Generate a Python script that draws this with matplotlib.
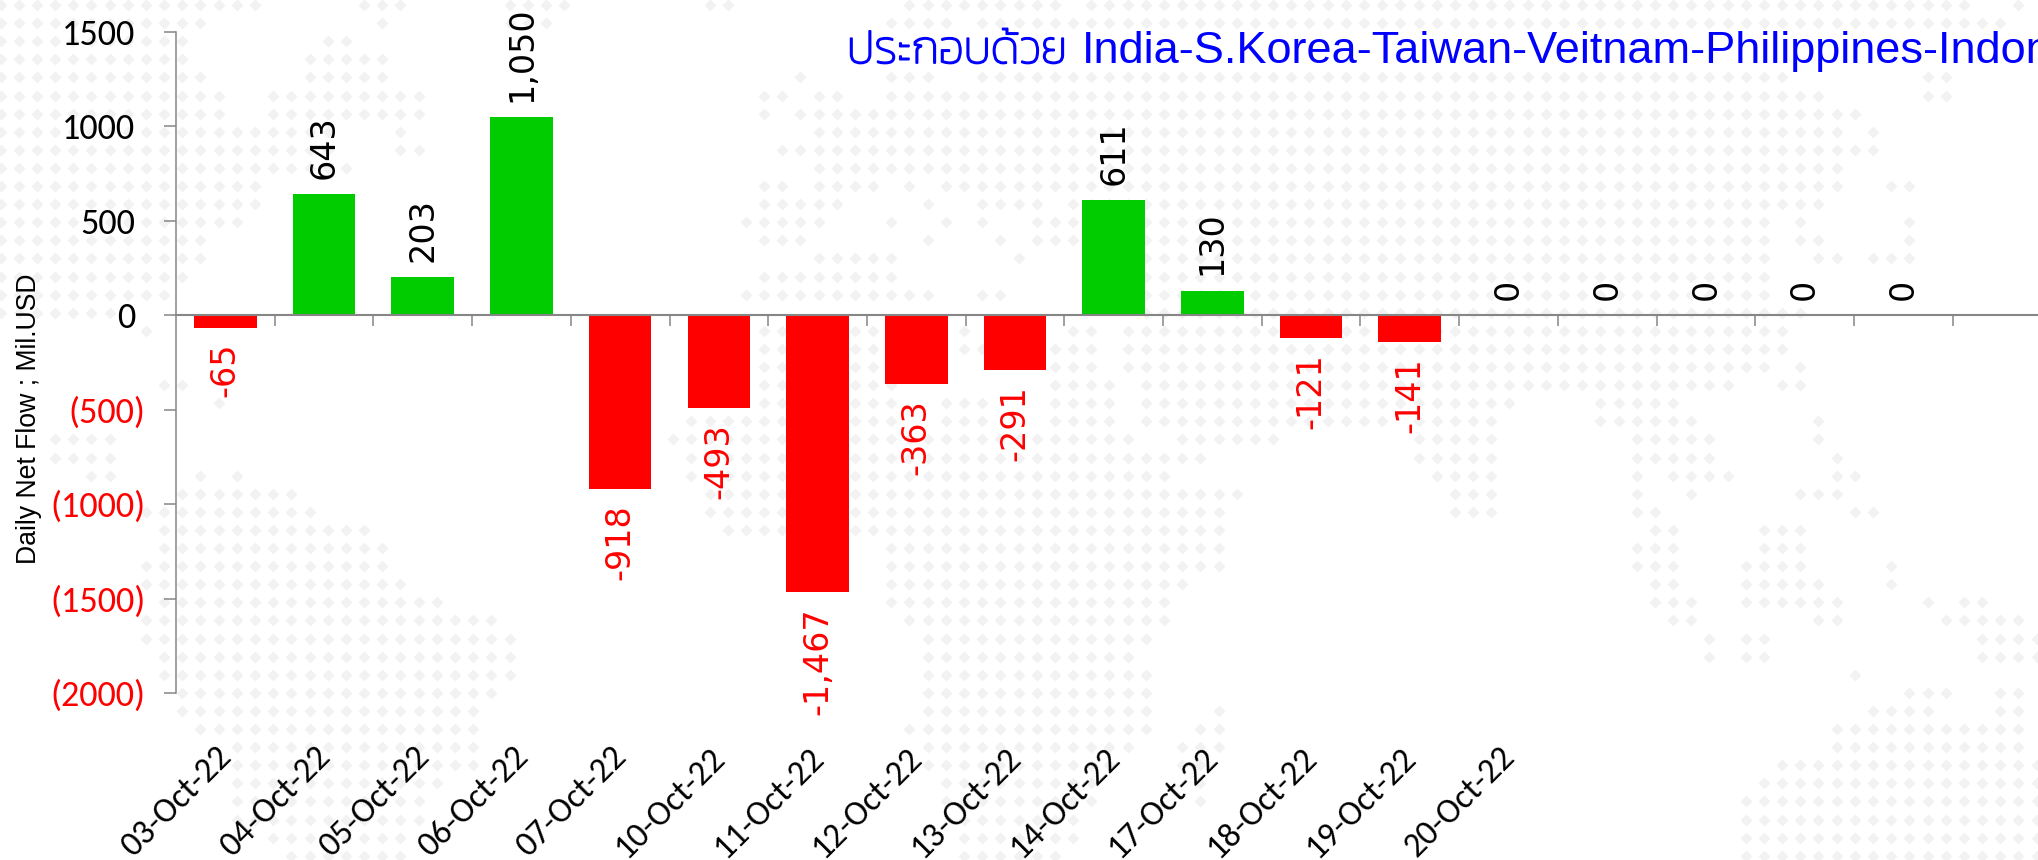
import numpy as np
import matplotlib
matplotlib.use("Agg")
import matplotlib.pyplot as plt
import matplotlib.patheffects as pe
from matplotlib.transforms import ScaledTranslation

W, H = 2038, 860

dates = ["03-Oct-22", "04-Oct-22", "05-Oct-22", "06-Oct-22", "07-Oct-22", "10-Oct-22",
         "11-Oct-22", "12-Oct-22", "13-Oct-22", "14-Oct-22", "17-Oct-22", "18-Oct-22",
         "19-Oct-22", "20-Oct-22", "", "", "", ""]
net_flow = [-65, 643, 203, 1050, -918, -493, -1467, -363, -291, 611, 130, -121, -141,
            0, 0, 0, 0, 0]
y_ticks = [1500, 1000, 500, 0, -500, -1000, -1500, -2000]

title_thai = "ประกอบด้วย"
title_latin = "India-S.Korea-Taiwan-Veitnam-Philippines-Indonesia"
y_label = "Daily Net Flow ; Mil.USD"

GREEN = "#00CC00"
RED = "#FF0000"
AXIS = "#868686"
DOT = "#F2F2F2"

# dotted world map behind the chart, one line per dot row: runs of dot columns
map_rows = """0-14 20-22 28-31 39-40 50-58 60-108 111
0-11 21 28-30 49-52 54-110
0-10 18-19
0-10 17-21
0-11 17-21 44 49-51 54-98 106-107
0-12 15-23 42-43 45-46 49-100 106-107
0-12 15-23 42 44-102
0-18 22 45-101 103
0-18 22-23 43-103
0-19 45-101
0-14 42-43 45-48 50 52-101 104-105
0-14 42-46 51 54-57 59-100
0-13 41-45 49 52 54 57-97 99 105
0-11 42-44 51 55 57-97 99-100 105
0-11 45-49 56 63-97 100-101 103-105
0-10 42-49 63-97
0-9 41-51 54-55 63-97
0-6 63-99
8 42-43 47-48 53 59-60 62-98
42-43 47-51 53-54 58-60 62-98
42-43 47-49 58-60 62-97 99
9-10 42-43 47-49 58-61 63-95 98-99
12 42-43 47-49 52-54 58-61 63-83 88-92
38-43 47-49 52-54 58-61 63-76 78-82 88-93 100
3-6 37-43 47-62 65-70 78-82 90-94 100
3-6 38-43 47-66 78-82 90-94 101
5-6 11 13 38-43 47-64 79-82 90 92-95 101-102
10-16 39-43 47-68 80-82 90 93 99-101
8-17 39-43 47-67 80-82 90-91 102-103
9-20 40-43 47-67 91-92 97-99
9-21 49-67 90-92 97-99
8-21 49-67 90-92 96-99 104
8-22 49-65 91-92 96-100 104
9-24 49-64 91-93 96-101 106 108-109
8-27 50-64 92-93 100-101 107-111
8-28 51-63 94 96-97 109-112
9-28 51-62 94 96-97 109-112
9-28 51-63 102
10-27 51-63 105-107 110-111
10-26 51-63 67 103-106 110-111
11-26 50-63 66-67 101-111
13-26 51-62 65-67 101-111
13-26 51-61 65-66 98-112
13-24 52-60 66 97-112
13-23 52-60 66 96-112
13-23 53-59 96-112
15-22 53-59 96-112
16-22 53-58 96-112""".split("\n")

LATIN = ["Carlito", "Lato"]

fig = plt.figure(figsize=(W / 100, H / 100), dpi=100, facecolor="white")

# background dots, in pixel coordinates of the picture
bg = fig.add_axes([0, 0, 1, 1], zorder=0)
bg.set_xlim(0, W)
bg.set_ylim(H, 0)
bg.axis("off")
dot_x, dot_y = [], []
for r, line in enumerate(map_rows):
    for run in line.split():
        a, _, b = run.partition("-")
        for c in range(int(a), int(b or a) + 1):
            dot_x.append(0.5 + 18.18 * c)
            dot_y.append(5 + 18.1 * r)
bg.scatter(dot_x, dot_y, marker="D", s=37, color=DOT, linewidths=0)

# plot area: y axis at x=176, 1500 at y=32, -2000 at y=693
ax = fig.add_axes([176 / W, 1 - 693 / H, 1 - 176 / W, (693 - 32) / H], zorder=1)
ax.patch.set_visible(False)

x = np.arange(len(net_flow)) + 0.5
colors = [GREEN if v > 0 else RED for v in net_flow]
ax.bar(x, net_flow, width=0.635, color=colors, zorder=1)
ax.set_xlim(0, (W - 176) / 98.7)
ax.set_ylim(-2000, 1500)

for xi, v in zip(x, net_flow):
    ax.annotate(f"{v:,}", (xi, v), xytext=(0, 11 if v >= 0 else -11), textcoords="offset points",
                rotation=90, ha="center", va="bottom" if v >= 0 else "top",
                fontsize=24, color=RED if v < 0 else "black", family="DejaVu Sans")

for side in ("top", "right"):
    ax.spines[side].set_visible(False)
ax.spines["left"].set_color(AXIS)
ax.spines["left"].set_linewidth(1.1)
ax.spines["bottom"].set_position(("data", 0))
ax.spines["bottom"].set_color(AXIS)
ax.spines["bottom"].set_linewidth(1.5)

# major x ticks mark the category edges on the zero line, labels hang from minor ticks
ax.set_xticks(np.arange(1, len(net_flow) + 1))
ax.set_xticklabels([])
ax.tick_params(axis="x", which="major", length=8, width=1.1, color=AXIS, direction="out")
ax.set_xticks(x, minor=True)
ax.set_xticklabels(dates, minor=True, rotation=45, ha="right", va="top",
                   rotation_mode="anchor", fontsize=25, family=LATIN)
ax.tick_params(axis="x", which="minor", length=0, pad=307)
for lab in ax.get_xticklabels(minor=True):
    lab.set_transform(lab.get_transform() + ScaledTranslation(-9 / 100, 0, fig.dpi_scale_trans))

ax.set_yticks(y_ticks)
ax.set_yticklabels([f"({-v})" if v < 0 else str(v) for v in y_ticks], fontsize=26, family=LATIN)
ax.tick_params(axis="y", length=9, width=1.1, color=AXIS, direction="out", pad=13)
# positive labels leave room for the closing bracket, as the number format does
shift = ScaledTranslation(-10 / 100, 0, fig.dpi_scale_trans)
for lab, v in zip(ax.get_yticklabels(), y_ticks):
    lab.set_color(RED if v < 0 else "black")
    if v >= 0:
        lab.set_transform(lab.get_transform() + shift)

ax.set_ylabel(y_label, fontsize=19.2, family="Liberation Sans")
ax.yaxis.set_label_coords((42 - 176) / (W - 176), (693 - 419) / (693 - 32))

thai = fig.text(847 / W, 1 - 63 / H, title_thai, fontsize=33, color="#0000FF", family=["Kanit", "Loma"],
                fontweight="light", ha="left", va="baseline", zorder=3)
thai.set_path_effects([pe.withStroke(linewidth=1.3, foreground="#0000FF")])
fig.text(1082 / W, 1 - 63 / H, title_latin, fontsize=32.5, color="#0000FF", family="Liberation Sans",
         ha="left", va="baseline", zorder=3)

fig.savefig("out.png", dpi=100)
